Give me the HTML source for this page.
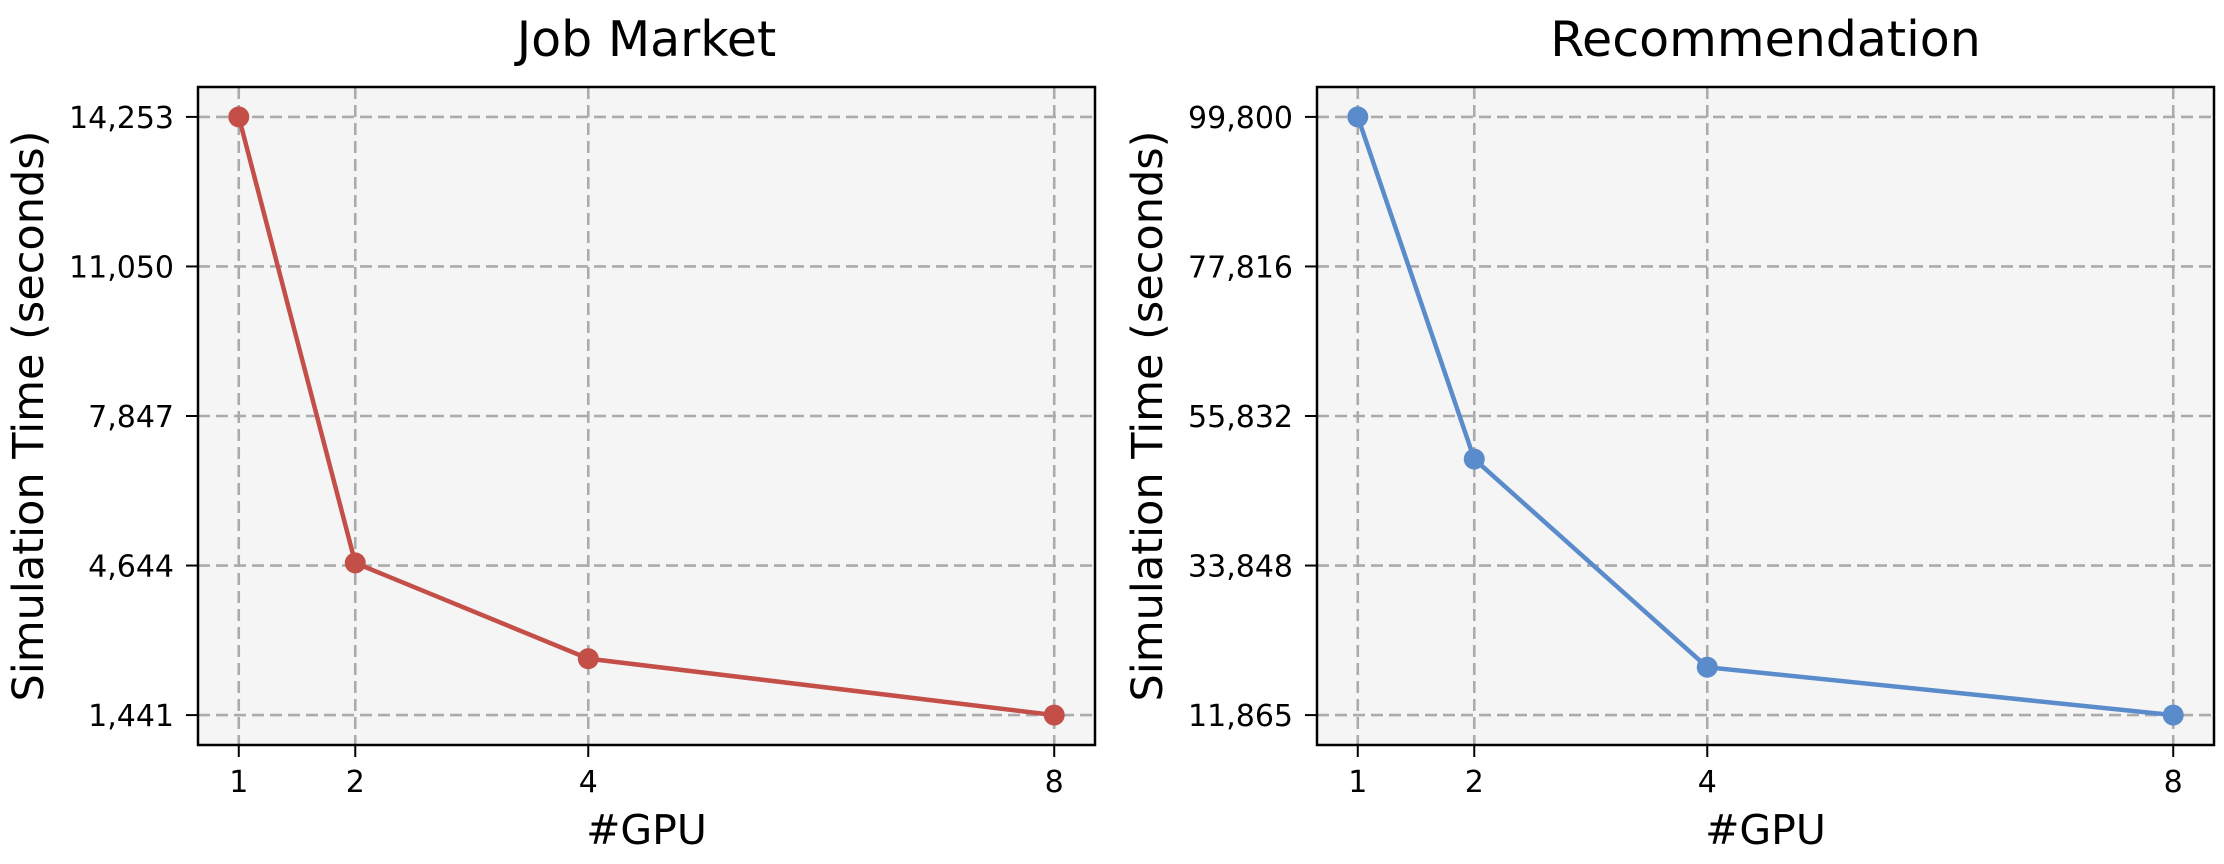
<!DOCTYPE html>
<html><head><meta charset="utf-8">
<style>
html,body{margin:0;padding:0;background:#fff;}
svg{display:block;font-family:"DejaVu Sans","Liberation Sans",sans-serif;}
</style></head>
<body>
<svg id="chart" width="2224" height="864" viewBox="0 0 2224 864" xmlns="http://www.w3.org/2000/svg"></svg>
<script>
const gpuCounts = [1, 2, 4, 8];
const jobMarketTimes = [14253, 4700, 2650, 1441];
const recommendationTimes = [99800, 49500, 18900, 11865];
const jobMarketTicks = [1441, 4644, 7847, 11050, 14253];
const jobMarketTickLabels = ["1,441", "4,644", "7,847", "11,050", "14,253"];
const recTicks = [11865, 33848, 55832, 77816, 99800];
const recTickLabels = ["11,865", "33,848", "55,832", "77,816", "99,800"];
const xTickLabels = ["1", "2", "4", "8"];

const NS = "http://www.w3.org/2000/svg";
const svg = document.getElementById("chart");
function mk(tag, attrs, parent) {
  const e = document.createElementNS(NS, tag);
  for (const k in attrs) e.setAttribute(k, attrs[k]);
  (parent || svg).appendChild(e);
  return e;
}

function panel(offset, title, key, values, ticks, tickLabels, color) {
  const L = 198 + offset, R = 1095 + offset, T = 87, B = 745;
  const g = mk("g", {});
  
  
  const xmin = Math.min(...gpuCounts), xmax = Math.max(...gpuCounts);
  const xpad = (xmax - xmin) * 0.05;
  const x0 = xmin - xpad, x1 = xmax + xpad;
  const vmin = Math.min(...ticks), vmax = Math.max(...ticks);
  const ypad = (vmax - vmin) * 0.05;
  const y0 = vmin - ypad, y1 = vmax + ypad;
  const xs = v => L + (v - x0) / (x1 - x0) * (R - L);
  const ys = v => B - (v - y0) / (y1 - y0) * (B - T);

  const bg = mk("rect", {x: L, y: T, width: R - L, height: B - T, fill: "#f5f5f5"}, g);
  
  

  gpuCounts.forEach((v, i) => {
    const gl = mk("line", {x1: xs(v), x2: xs(v), y1: T, y2: B, stroke: "#ababab", "stroke-width": 2.6, "stroke-dasharray": "12,6"}, g);
    
    
    const tk = mk("line", {x1: xs(v), x2: xs(v), y1: B, y2: B + 12, stroke: "#000", "stroke-width": 2}, g);
    
    
    const tl = mk("text", {x: xs(v), y: 792, "font-size": 30, "text-anchor": "middle", fill: "#000"}, g);
    tl.textContent = xTickLabels[i];
    
    
  });
  ticks.forEach((v, i) => {
    const gl = mk("line", {x1: L, x2: R, y1: ys(v), y2: ys(v), stroke: "#ababab", "stroke-width": 2.6, "stroke-dasharray": "12,6"}, g);
    
    
    const tk = mk("line", {x1: L - 12, x2: L, y1: ys(v), y2: ys(v), stroke: "#000", "stroke-width": 2}, g);
    
    
    const tl = mk("text", {x: L - 24, y: ys(v) + 11, "font-size": 30, "text-anchor": "end", fill: "#000"}, g);
    tl.textContent = tickLabels[i];
    
    
  });

  const pts = gpuCounts.map((v, i) => xs(v) + "," + ys(values[i])).join(" ");
  const line = mk("polyline", {points: pts, fill: "none", stroke: color, "stroke-width": 4.5, "stroke-linejoin": "round"}, g);
  
  
  gpuCounts.forEach((v, i) => {
    const c = mk("circle", {cx: xs(v), cy: ys(values[i]), r: 10.5, fill: color}, g);
    
    
  });

  const fr = mk("rect", {x: L, y: T, width: R - L, height: B - T, fill: "none", stroke: "#000", "stroke-width": 2.5}, g);
  
  

  const tt = mk("text", {x: (L + R) / 2, y: 56, "font-size": 49, "text-anchor": "middle", fill: "#000"}, g);
  tt.textContent = title;
  
  

  const xl = mk("text", {x: (L + R) / 2, y: 844, "font-size": 41, "text-anchor": "middle", fill: "#000"}, g);
  xl.textContent = "#GPU";
  
  

  const yl = mk("text", {x: 0, y: 0, "font-size": 43, "text-anchor": "middle", fill: "#000",
    transform: "translate(" + (43 + offset) + "," + ((T + B) / 2) + ") rotate(-90)"}, g);
  yl.textContent = "Simulation Time (seconds)";
  
  
}

panel(0, "Job Market", "job-market", jobMarketTimes, jobMarketTicks, jobMarketTickLabels, "#c44e48");
panel(1119, "Recommendation", "recommendation", recommendationTimes, recTicks, recTickLabels, "#5a8bca");
</script>
</body></html>
